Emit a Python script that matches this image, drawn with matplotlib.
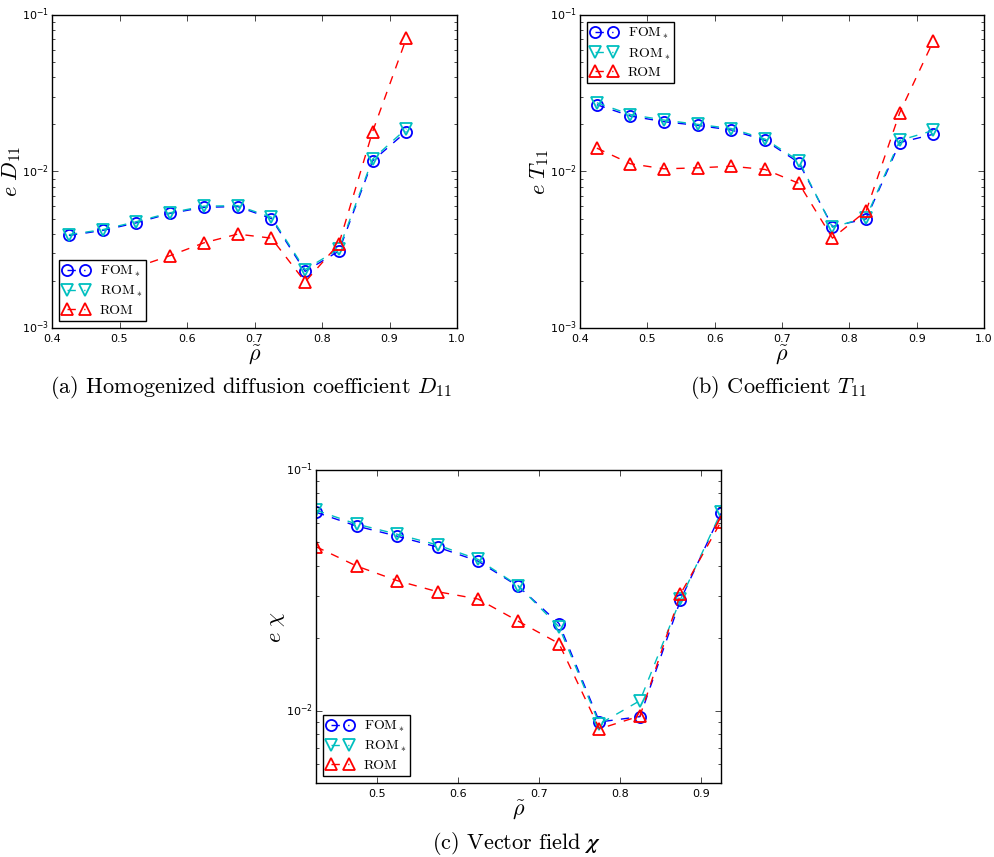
import matplotlib
matplotlib.use("Agg")
import matplotlib.pyplot as plt
import numpy as np

plt.style.use("classic")
plt.rcParams["figure.facecolor"] = "white"
plt.rcParams["savefig.facecolor"] = "white"
plt.rcParams["mathtext.fontset"] = "cm"

rho = [0.425, 0.475, 0.525, 0.575, 0.625, 0.675, 0.725, 0.775, 0.825, 0.875, 0.925]

# (a) D11 errors
d11_fom = [3.9e-3, 4.2e-3, 4.7e-3, 5.4e-3, 5.9e-3, 5.97e-3, 5.0e-3, 2.3e-3, 3.1e-3, 1.17e-2, 1.80e-2]
d11_romstar = [3.95e-3, 4.25e-3, 4.78e-3, 5.45e-3, 6.0e-3, 6.05e-3, 5.1e-3, 2.36e-3, 3.2e-3, 1.2e-2, 1.88e-2]
d11_rom = [2.0e-3, 2.2e-3, 2.45e-3, 2.9e-3, 3.5e-3, 3.98e-3, 3.75e-3, 1.97e-3, 3.45e-3, 1.8e-2, 7.1e-2]

# (b) T11 errors
t11_fom = [2.67e-2, 2.26e-2, 2.08e-2, 1.97e-2, 1.84e-2, 1.58e-2, 1.14e-2, 4.45e-3, 4.98e-3, 1.53e-2, 1.73e-2]
t11_romstar = [2.75e-2, 2.31e-2, 2.13e-2, 2.0e-2, 1.88e-2, 1.61e-2, 1.17e-2, 4.4e-3, 5.08e-3, 1.58e-2, 1.83e-2]
t11_rom = [1.41e-2, 1.12e-2, 1.04e-2, 1.055e-2, 1.08e-2, 1.03e-2, 8.4e-3, 3.75e-3, 5.6e-3, 2.38e-2, 6.85e-2]

# (c) chi errors
chi_fom = [6.67e-2, 5.85e-2, 5.31e-2, 4.78e-2, 4.18e-2, 3.28e-2, 2.30e-2, 8.97e-3, 9.44e-3, 2.88e-2, 6.6e-2]
chi_romstar = [6.8e-2, 5.96e-2, 5.41e-2, 4.88e-2, 4.25e-2, 3.3e-2, 2.23e-2, 8.8e-3, 1.10e-2, 2.9e-2, 6.67e-2]
chi_rom = [4.8e-2, 3.99e-2, 3.47e-2, 3.12e-2, 2.91e-2, 2.35e-2, 1.90e-2, 8.4e-3, 9.5e-3, 3.05e-2, 6.1e-2]

labels = ["FOM$_*$", "ROM$_*$", "ROM"]

fig = plt.figure(figsize=(9.95, 8.57), dpi=100)
ax_a = fig.add_axes([0.0523, 0.6173, 0.407, 0.3652])
ax_b = fig.add_axes([0.5829, 0.6173, 0.406, 0.3652])
ax_c = fig.add_axes([0.3176, 0.0863, 0.407, 0.3653])


def draw(ax, fom, romstar, rom, ylabel, loc, xlim, ylim, xticks):
    kw = dict(ls="--", lw=1, mfc="none", ms=8, mew=1.3)
    ax.plot(rho, fom, "o", color="b", mec="b", label=labels[0], **kw)
    ax.plot(rho, romstar, "v", color="c", mec="c", label=labels[1], **kw)
    ax.plot(rho, rom, "^", color="r", mec="r", label=labels[2], **kw)
    ax.set_yscale("log")
    ax.set_xlim(*xlim)
    ax.set_ylim(*ylim)
    ax.set_xticks(xticks)
    ax.tick_params(labelsize=8)
    ax.tick_params(axis="y", which="major", pad=2)
    ax.tick_params(axis="x", which="major", pad=4)
    ax.set_ylabel(ylabel, fontsize=16)
    ax.yaxis.set_label_coords(-0.072, 0.5)
    ax.set_xlabel(r"$\tilde{\rho}$", fontsize=16, labelpad=0)
    leg = ax.legend(loc=loc, numpoints=2, fancybox=False,
                    prop={"family": "cmr10", "size": 10}, handlelength=1.85,
                    handletextpad=0.8, borderpad=0.3, labelspacing=0.35,
                    borderaxespad=0.5)
    leg.get_frame().set_linewidth(1.0)


draw(ax_a, d11_fom, d11_romstar, d11_rom, r"$e\ D_{11}$", "lower left",
     (0.4, 1.0), (1e-3, 1e-1), np.arange(0.4, 1.01, 0.1))
draw(ax_b, t11_fom, t11_romstar, t11_rom, r"$e\ T_{11}$", "upper left",
     (0.4, 1.0), (1e-3, 1e-1), np.arange(0.4, 1.01, 0.1))
draw(ax_c, chi_fom, chi_romstar, chi_rom, r"$e\ \chi$", "lower left",
     (0.425, 0.925), (5e-3, 1e-1), np.arange(0.5, 0.91, 0.1))

cap = dict(family="cmr10", fontsize=16, ha="center", va="center")
fig.text(0.252, 0.5473, r"(a) Homogenized diffusion coefficient $D_{11}$", **cap)
fig.text(0.783, 0.5473, r"(b) Coefficient $T_{11}$", **cap)
fig.text(0.519, 0.0163, r"(c) Vector field $\boldsymbol{\chi}$", **cap)

fig.savefig("out.png", dpi=100)
